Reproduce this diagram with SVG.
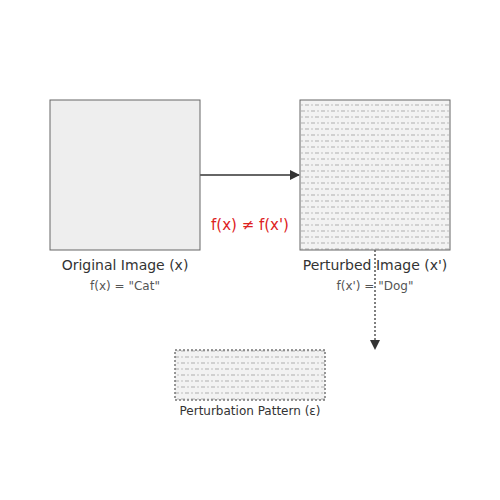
<svg xmlns="http://www.w3.org/2000/svg" width="500" height="500" viewBox="0 0 500 500">
<style>
text{font-family:"DejaVu Sans","Noto Sans",sans-serif;fill:#333;text-anchor:middle}
.t{font-size:14px}
.s{font-size:12px;fill:#555}
.r{font-size:15px;fill:#dd2222}
</style>
<defs>
<pattern id="noise" width="10" height="12" patternUnits="userSpaceOnUse">
<rect width="10" height="12" fill="#f2f2f2"/>
<rect x="1" y="2" width="4" height="2" fill="#d0d0d0"/>
<rect x="7" y="2" width="2" height="2" fill="#d8d8d8"/>
<rect x="5" y="8" width="4" height="2" fill="#d0d0d0"/>
<rect x="1" y="8" width="2" height="2" fill="#d8d8d8"/>
</pattern>
<marker id="ah" markerWidth="10" markerHeight="10" refX="9" refY="5" orient="auto" markerUnits="userSpaceOnUse">
<path d="M0,0 L10,5 L0,10 Z" fill="#333"/>
</marker>
</defs>
<g id="connectors">
<line x1="200" y1="175" x2="299" y2="175" stroke="#333" stroke-width="1.5" marker-end="url(#ah)"/>
<line x1="375" y1="250" x2="375" y2="349" stroke="#555" stroke-width="1.5" stroke-dasharray="2,2" marker-end="url(#ah)"/>
</g>
<g id="original">
<rect x="50" y="100" width="150" height="150" fill="#eeeeee" stroke="#666" stroke-width="1"/>
<text class="t" x="125" y="270">Original Image (x)</text>
<text class="s" x="125" y="290">f(x) = "Cat"</text>
</g>
<g id="perturbed">
<rect x="300" y="100" width="150" height="150" fill="url(#noise)" stroke="#666" stroke-width="1"/>
<text class="t" x="375" y="270">Perturbed Image (x')</text>
<text class="s" x="375" y="290">f(x') = "Dog"</text>
</g>
<g id="pattern">
<rect x="175" y="350" width="150" height="50" fill="url(#noise)" stroke="#777" stroke-width="1.5" stroke-dasharray="2,2"/>
<text class="s" x="250" y="415" style="fill:#333">Perturbation Pattern (ε)</text>
</g>
<g id="neq">
<text class="r" x="250" y="230">f(x) ≠ f(x')</text>
</g>
</svg>
